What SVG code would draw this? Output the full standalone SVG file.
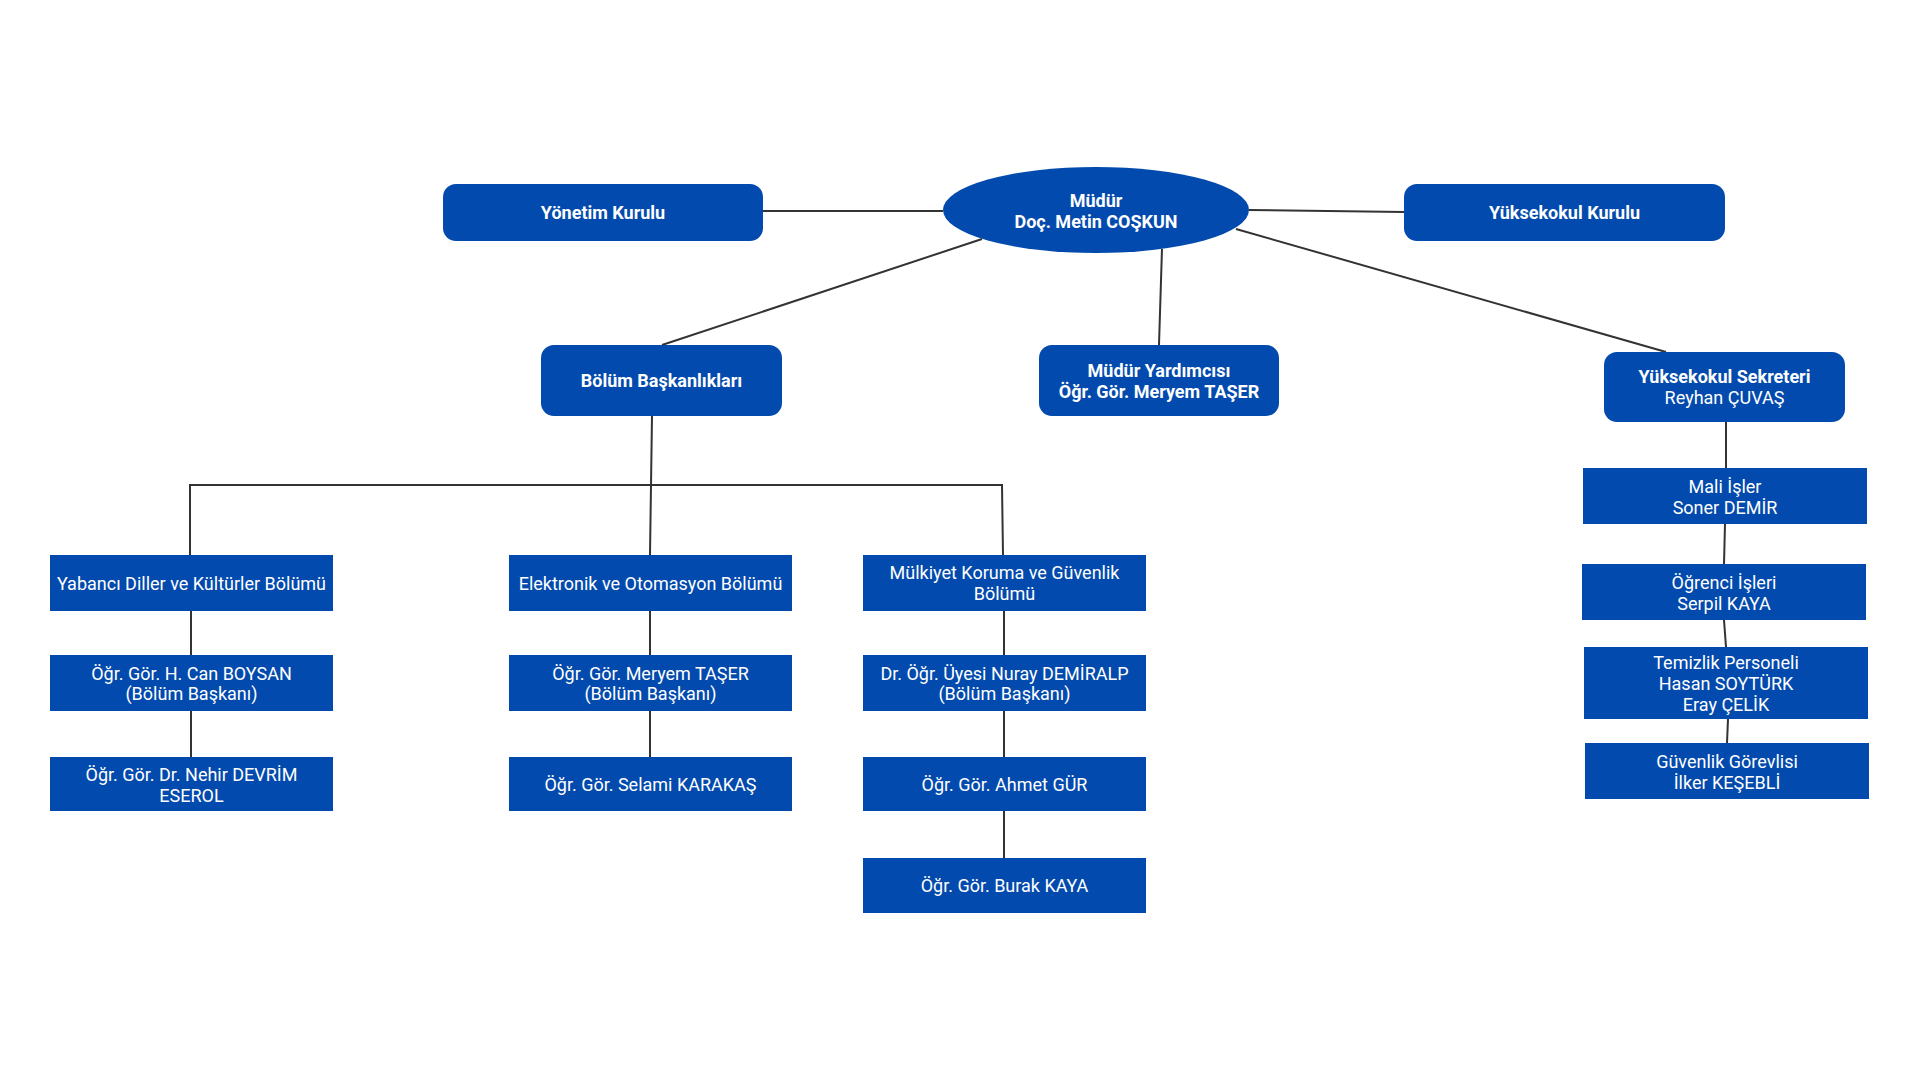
<svg xmlns="http://www.w3.org/2000/svg" width="1920" height="1080" viewBox="0 0 1920 1080">
<style>
.bx{fill:#024aad}
.t{font-family:Roboto,"Liberation Sans",sans-serif;fill:#fff;text-anchor:middle;dominant-baseline:central;font-size:18px}
.b{font-weight:700;font-size:18px}
.c{stroke:#333;stroke-width:2;fill:none}
</style>
<rect width="1920" height="1080" fill="#fff"/>
<g id="connectors">
<line class="c" x1="763" y1="211" x2="943" y2="211"/>
<line class="c" x1="1249" y1="210" x2="1404" y2="212"/>
<line class="c" x1="982" y1="239" x2="662" y2="345"/>
<line class="c" x1="1162" y1="249" x2="1159" y2="345"/>
<line class="c" x1="1236" y1="229" x2="1666" y2="352"/>
<line class="c" x1="652" y1="416" x2="650" y2="555"/>
<polyline class="c" points="190,555 190,485 1002,485 1003,555"/>
<line class="c" x1="191" y1="611" x2="191" y2="655"/>
<line class="c" x1="191" y1="711" x2="191" y2="757"/>
<line class="c" x1="650" y1="611" x2="650" y2="655"/>
<line class="c" x1="650" y1="711" x2="650" y2="757"/>
<line class="c" x1="1004" y1="611" x2="1004" y2="655"/>
<line class="c" x1="1004" y1="711" x2="1004" y2="757"/>
<line class="c" x1="1004" y1="811" x2="1004" y2="858"/>
<line class="c" x1="1726" y1="422" x2="1726" y2="468"/>
<line class="c" x1="1725" y1="524" x2="1724" y2="564"/>
<line class="c" x1="1724" y1="620" x2="1726" y2="647"/>
<line class="c" x1="1728" y1="719" x2="1727" y2="743"/>
</g>
<g id="mudur">
<ellipse class="bx" cx="1096" cy="210" rx="153" ry="43"/>
<text class="t b" x="1096" y="200">Müdür</text>
<text class="t b" x="1096" y="221">Doç. Metin COŞKUN</text>
</g>
<g id="yonetim-kurulu">
<rect class="bx" x="443" y="184" width="320" height="57" rx="13"/>
<text class="t b" x="603" y="212.5">Yönetim Kurulu</text>
</g>
<g id="yuksekokul-kurulu">
<rect class="bx" x="1404" y="184" width="321" height="57" rx="13"/>
<text class="t b" x="1564.5" y="212.5">Yüksekokul Kurulu</text>
</g>
<g id="bolum-baskanliklari">
<rect class="bx" x="541" y="345" width="241" height="71" rx="13"/>
<text class="t b" x="661.5" y="380.5">Bölüm Başkanlıkları</text>
</g>
<g id="mudur-yardimcisi">
<rect class="bx" x="1039" y="345" width="240" height="71" rx="13"/>
<text class="t b" x="1159" y="370">Müdür Yardımcısı</text>
<text class="t b" x="1159" y="391">Öğr. Gör. Meryem TAŞER</text>
</g>
<g id="sekreter">
<rect class="bx" x="1604" y="352" width="241" height="70" rx="13"/>
<text class="t b" x="1724.5" y="376">Yüksekokul Sekreteri</text>
<text class="t" x="1724.5" y="397">Reyhan ÇUVAŞ</text>
</g>
<g id="yabanci-diller">
<rect class="bx" x="50" y="555" width="283" height="56"/>
<text class="t" x="191.5" y="583">Yabancı Diller ve Kültürler Bölümü</text>
</g>
<g id="can-boysan">
<rect class="bx" x="50" y="655" width="283" height="56"/>
<text class="t" x="191.5" y="673">Öğr. Gör. H. Can BOYSAN</text>
<text class="t" x="191.5" y="693">(Bölüm Başkanı)</text>
</g>
<g id="nehir-devrim">
<rect class="bx" x="50" y="757" width="283" height="54"/>
<text class="t" x="191.5" y="774">Öğr. Gör. Dr. Nehir DEVRİM</text>
<text class="t" x="191.5" y="795">ESEROL</text>
</g>
<g id="elektronik">
<rect class="bx" x="509" y="555" width="283" height="56"/>
<text class="t" x="650.5" y="583">Elektronik ve Otomasyon Bölümü</text>
</g>
<g id="meryem-taser">
<rect class="bx" x="509" y="655" width="283" height="56"/>
<text class="t" x="650.5" y="673">Öğr. Gör. Meryem TAŞER</text>
<text class="t" x="650.5" y="693">(Bölüm Başkanı)</text>
</g>
<g id="selami-karakas">
<rect class="bx" x="509" y="757" width="283" height="54"/>
<text class="t" x="650.5" y="784">Öğr. Gör. Selami KARAKAŞ</text>
</g>
<g id="mulkiyet">
<rect class="bx" x="863" y="555" width="283" height="56"/>
<text class="t" x="1004.5" y="572">Mülkiyet Koruma ve Güvenlik</text>
<text class="t" x="1004.5" y="593">Bölümü</text>
</g>
<g id="nuray-demiralp">
<rect class="bx" x="863" y="655" width="283" height="56"/>
<text class="t" x="1004.5" y="673">Dr. Öğr. Üyesi Nuray DEMİRALP</text>
<text class="t" x="1004.5" y="693">(Bölüm Başkanı)</text>
</g>
<g id="ahmet-gur">
<rect class="bx" x="863" y="757" width="283" height="54"/>
<text class="t" x="1004.5" y="784">Öğr. Gör. Ahmet GÜR</text>
</g>
<g id="burak-kaya">
<rect class="bx" x="863" y="858" width="283" height="55"/>
<text class="t" x="1004.5" y="885.5">Öğr. Gör. Burak KAYA</text>
</g>
<g id="mali-isler">
<rect class="bx" x="1583" y="468" width="284" height="56"/>
<text class="t" x="1725" y="486">Mali İşler</text>
<text class="t" x="1725" y="507">Soner DEMİR</text>
</g>
<g id="ogrenci-isleri">
<rect class="bx" x="1582" y="564" width="284" height="56"/>
<text class="t" x="1724" y="582">Öğrenci İşleri</text>
<text class="t" x="1724" y="603">Serpil KAYA</text>
</g>
<g id="temizlik">
<rect class="bx" x="1584" y="647" width="284" height="72"/>
<text class="t" x="1726" y="662">Temizlik Personeli</text>
<text class="t" x="1726" y="683">Hasan SOYTÜRK</text>
<text class="t" x="1726" y="704">Eray ÇELİK</text>
</g>
<g id="guvenlik">
<rect class="bx" x="1585" y="743" width="284" height="56"/>
<text class="t" x="1727" y="761">Güvenlik Görevlisi</text>
<text class="t" x="1727" y="782">İlker KEŞEBLİ</text>
</g>
</svg>
